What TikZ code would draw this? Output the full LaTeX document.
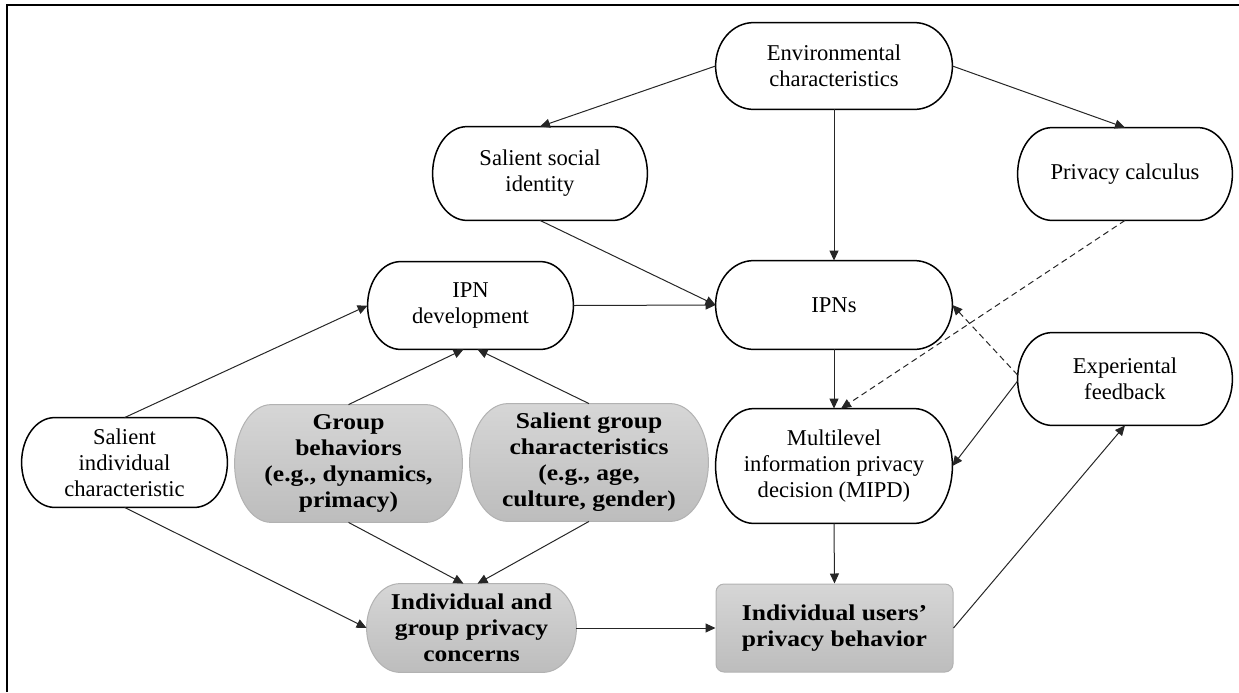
\documentclass[tikz,border=0pt]{standalone}
\usepackage{fontspec}
\setmainfont{Liberation Serif}[BoldFeatures={FakeStretch=1.13}]
\usetikzlibrary{arrows.meta}
\usetikzlibrary{calc}
\usetikzlibrary{backgrounds}

\begin{document}
\begin{tikzpicture}[x=0.5pt,y=-0.5pt,
    >={Triangle[length=5pt,width=4.5pt]},
    every node/.style={inner sep=0pt,align=center,font=\fontsize{11.3}{13}\selectfont},
    hot/.style={font=\fontsize{11.3}{13}\selectfont\bfseries},
    rim/.style={draw=black,line width=0.75pt,fill=white},
    greybox/.style={draw=black!30,line width=0.5pt,top color=black!16,bottom color=black!26},
    link/.style={->,line width=0.5pt,black!85},
    hint/.style={link,dash pattern=on 3pt off 2pt}]
    \useasboundingbox (0,0) rectangle (1239,692);
    \draw[line width=1.2pt] (7,692) -- (7,5) -- (1239,5);

    \node[minimum width=118pt,minimum height=43pt] (env) at (834,66) {Environmental\\characteristics};
    \node[minimum width=107pt,minimum height=46.5pt] (ssi) at (540,173.5) {Salient social\\identity};
    \node[minimum width=107pt,minimum height=46pt] (pc) at (1125,174) {Privacy calculus};
    \node[minimum width=102.5pt,minimum height=43.5pt] (ipnd) at (470.5,305.5) {IPN\\development};
    \node[minimum width=118pt,minimum height=44pt] (ipns) at (834,305) {IPNs};
    \node[minimum width=107pt,minimum height=46pt] (ef) at (1125,379) {Experiental\\feedback};
    \node[minimum width=118pt,minimum height=57pt] (mipd) at (834,466) {Multilevel\\information privacy\\decision (MIPD)};
    \node[minimum width=102.5pt,minimum height=44.5pt] (sic) at (124.5,462.5) {Salient\\individual\\characteristic};
    \node[hot,minimum width=113.5pt,minimum height=58.5pt] (gb) at (348.5,463.5) {Group\\behaviors\\(e.g., dynamics,\\primacy)};
    \node[hot,minimum width=119pt,minimum height=58.5pt] (sgc) at (589,462.5) {Salient group\\characteristics\\(e.g., age,\\culture, gender)};
    \node[hot,minimum width=104.5pt,minimum height=44pt] (con) at (471.5,628) {Individual and\\group privacy\\concerns};
    \node[hot,greybox,rounded corners=4pt,minimum width=118.5pt,minimum height=44pt] (uib) at (834.5,628) {Individual users'\\privacy behavior};

    % rounded outlines behind the texts
    \begin{scope}[on background layer]
      \foreach \b in {env,ssi,pc,ipnd,ipns,ef,mipd,sic}
        \path[rim] let \p1=(\b.north west),\p2=(\b.south east),\n1={0.16*(\x2-\x1)},\n2={(\y1-\y2)/2} in
          (\x1+\n1,\y1) -- (\x2-\n1,\y1) arc[start angle=90,end angle=-90,x radius=\n1,y radius=\n2]
          -- (\x1+\n1,\y2) arc[start angle=270,end angle=90,x radius=\n1,y radius=\n2] -- cycle;
      \foreach \b in {gb,sgc,con}
        \path[greybox] let \p1=(\b.north west),\p2=(\b.south east),\n1={0.16*(\x2-\x1)},\n2={(\y1-\y2)/2} in
          (\x1+\n1,\y1) -- (\x2-\n1,\y1) arc[start angle=90,end angle=-90,x radius=\n1,y radius=\n2]
          -- (\x1+\n1,\y2) arc[start angle=270,end angle=90,x radius=\n1,y radius=\n2] -- cycle;
    \end{scope}

    \draw[link] (env.west) -- (ssi.north);
    \draw[link] (env.east) -- (pc.north);
    \draw[link] (env.south) -- (ipns.north);
    \draw[link] (ssi.south) -- (ipns.west);
    \draw[link] (ipnd.east) -- (ipns.west);
    \draw[link] (ipns.south) -- (mipd.north);
    \draw[hint] (pc.south) -- ($(mipd.north)+(7,0)$);
    \draw[hint] ($(ef.west)+(0,-4)$) -- (ipns.east);
    \draw[link] ($(ef.west)+(0,2)$) -- (mipd.east);
    \draw[link] (mipd.south) -- (uib.north);
    \draw[link] (uib.east) -- (ef.south);
    \draw[link] (con.east) -- (uib.west);
    \draw[link] (sic.north) -- (ipnd.west);
    \draw[link] (sic.south) -- (con.west);
    \draw[link] (gb.north) -- ($(ipnd.south)+(-7,0)$);
    \draw[link] (sgc.north) -- ($(ipnd.south)+(7,0)$);
    \draw[link] (gb.south) -- ($(con.north)+(-8,0)$);
    \draw[link] (sgc.south) -- ($(con.north)+(6,0)$);
\end{tikzpicture}
\end{document}
